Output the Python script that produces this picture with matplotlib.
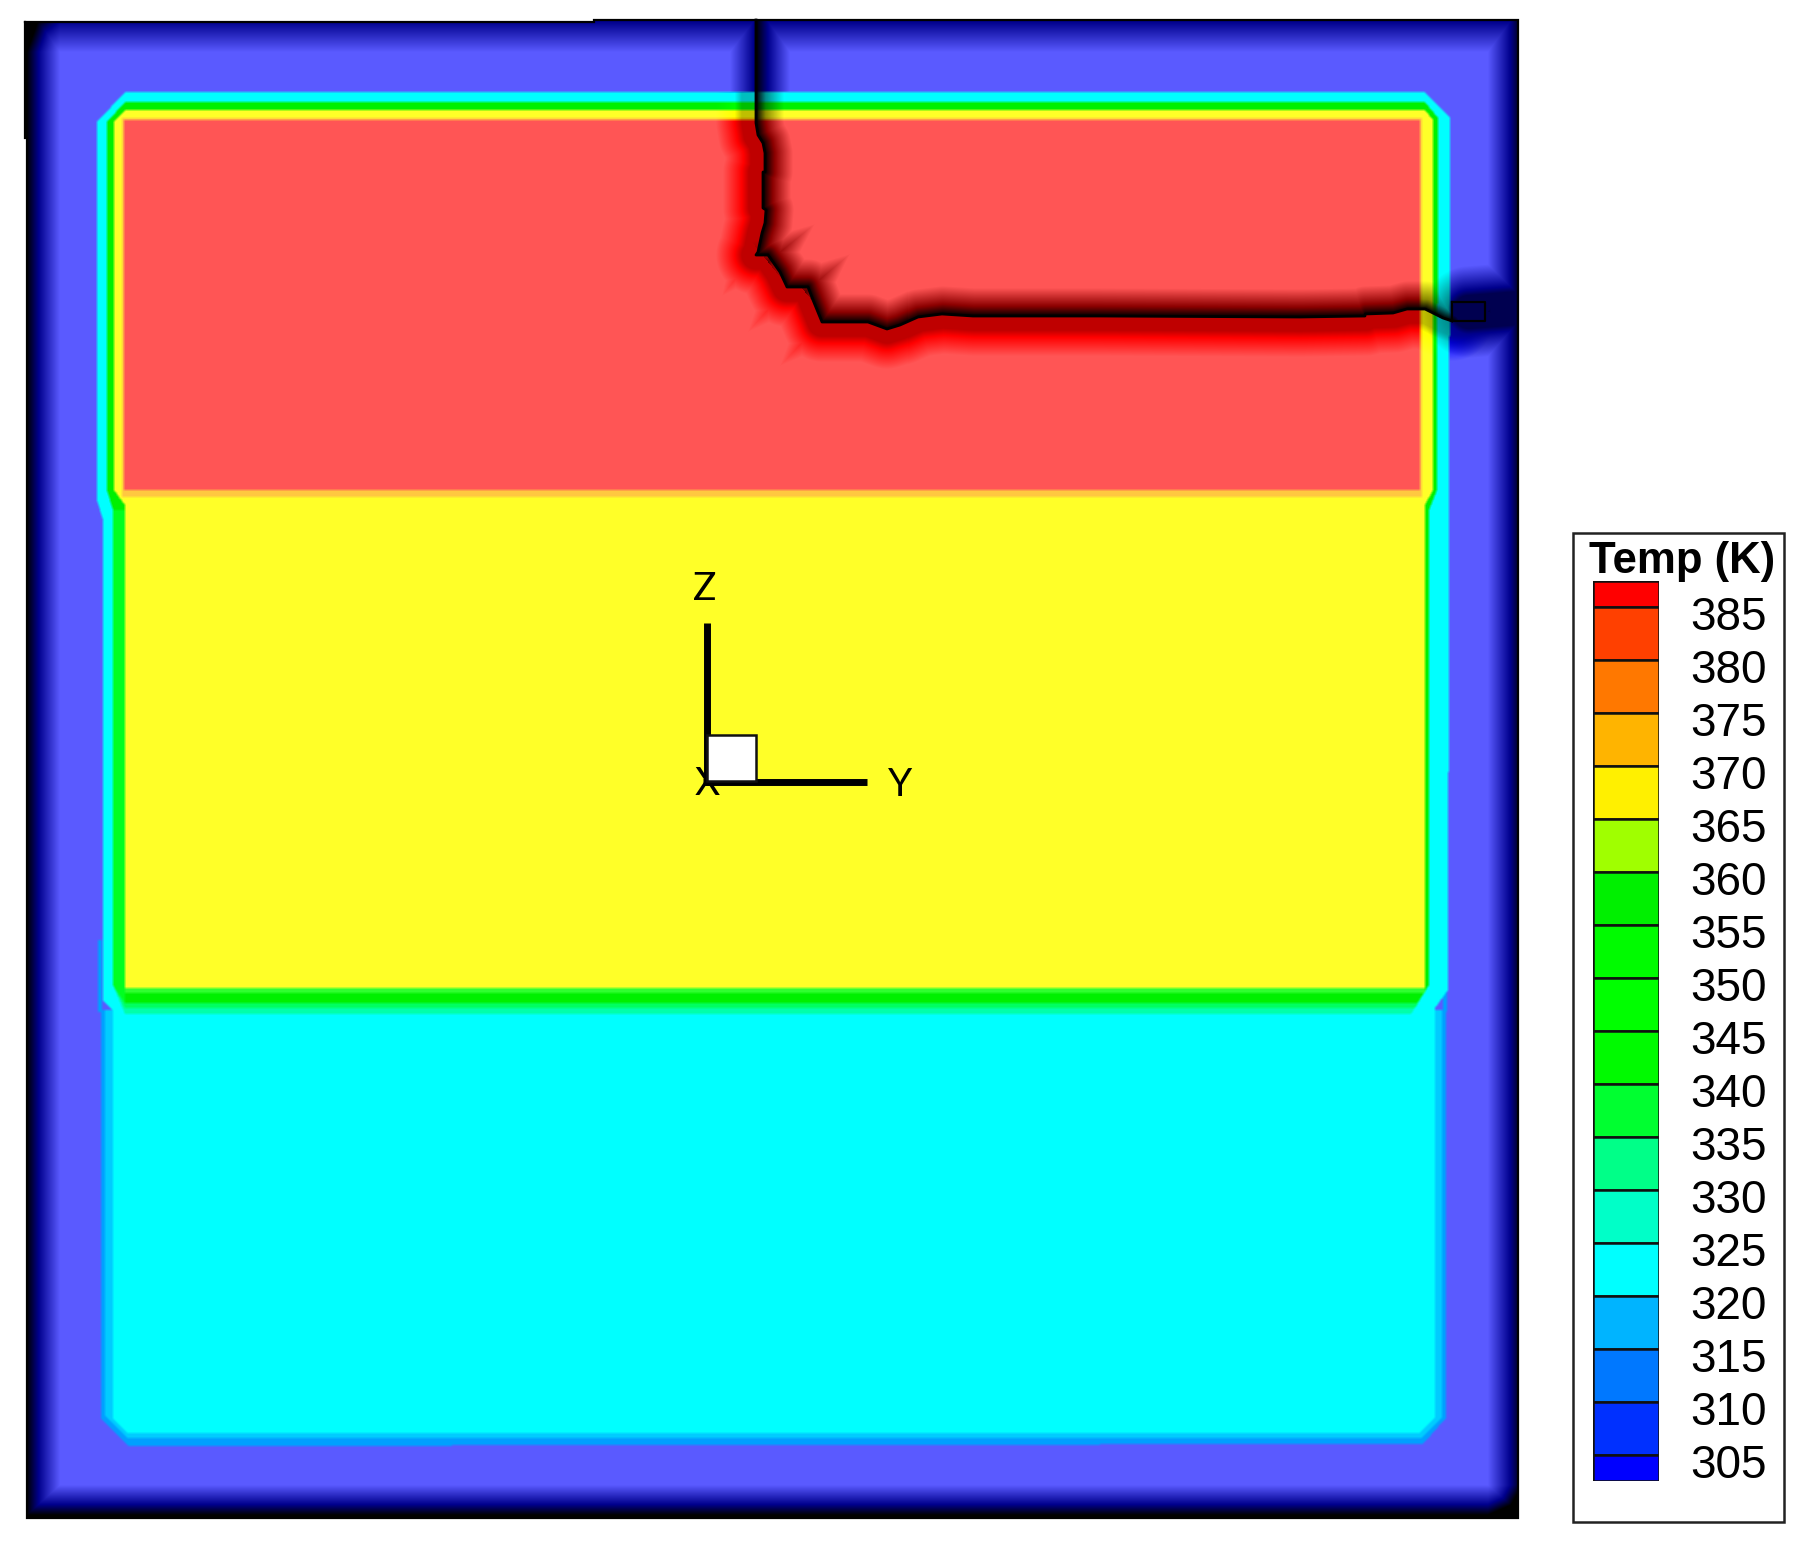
import numpy as np
import matplotlib
matplotlib.use("Agg")
import matplotlib.pyplot as plt
from matplotlib.path import Path
from matplotlib.patches import Rectangle

W, H = 1801, 1541

# ---- data -----------------------------------------------------------------
levels = [385, 380, 375, 370, 365, 360, 355, 350, 345, 340, 335, 330, 325, 320, 315, 310, 305]
band_colors = ["#FF0000", "#FF4000", "#FF7800", "#FFB400", "#FFF000", "#A0FF00", "#00F000", "#00FB00",
               "#00FF00", "#00FA00", "#00FF30", "#00FF88", "#00FFC8", "#00FFFF", "#00B4FF", "#0078FF",
               "#0030FF", "#0000FF"]

outline = [(25, 22), (594, 22), (594, 20), (1518, 20), (1518, 1518), (27, 1518), (27, 138), (25, 138)]

# painter's order: (colour, polygon) in image pixels
regions = [
    ("#5A5AFF", outline),
    ("#00A0FF", [(101, 1010), (1445, 1010), (1445, 1418), (1422, 1444), (128, 1446), (101, 1418)]),
    ("#00A0FF", [(98, 940), (102, 940), (102, 1012), (98, 1012)]),
    ("#00A0FF", [(1442, 985), (1446, 985), (1446, 1012), (1442, 1012)]),
    ("#00CCFF", [(105, 1010), (1441, 1010), (1441, 1418), (1420, 1438), (128, 1438), (105, 1416)]),
    ("#00FFFF", [(97, 122), (125, 92), (1424, 92), (1449, 118), (1447, 990), (1434, 1008), (1434, 1418),
                 (1418, 1433), (128, 1433), (113, 1418), (113, 1010), (103, 1000), (103, 520), (97, 500)]),
    ("#00FFAA", [(113, 985), (125, 1014), (1410, 1014), (1428, 985)]),
    ("#00FF60", [(113, 985), (125, 1008), (1414, 1008), (1428, 985)]),
    ("#00F000", [(107, 122), (125, 102), (1424, 102), (1437, 118), (1436, 490), (1428, 510), (1428, 985),
                 (1416, 1003), (125, 1003), (113, 985), (113, 510), (107, 490)]),
    ("#00FF20", [(113, 510), (125, 510), (125, 1003), (113, 985)]),
    ("#30FF30", [(125, 985), (1424, 985), (1424, 993), (125, 993)]),
    ("#FFFF28", [(114, 122), (125, 110), (1424, 110), (1432, 120), (1432, 490), (1424, 505), (1424, 988),
                 (125, 988), (125, 505), (114, 490)]),
    ("#FFC840", [(122, 118), (1421, 118), (1421, 497), (122, 497)]),
    ("#FF5555", [(124, 120), (1419, 120), (1419, 490), (124, 490)]),
]

crack = [(756, 20), (756, 123), (758, 135), (763, 143), (765, 153), (765, 172), (763, 172), (763, 208),
         (766, 210), (765, 223), (762, 233), (758, 252), (756, 255), (768, 255), (780, 272), (787, 287),
         (808, 287), (813, 300), (822, 322), (868, 322), (887, 329), (900, 325), (918, 317), (942, 314),
         (973, 316), (1100, 316), (1300, 317), (1365, 316), (1365, 314), (1393, 313), (1407, 309),
         (1425, 309), (1443, 318), (1452, 321)]
crack_box = [(1452, 302), (1485, 302), (1485, 321), (1452, 321), (1452, 302)]
# (base, tip, half-width, strength) of the saw-tooth shadows
upper_teeth = [((768, 262), (815, 224), 26, .8), ((805, 292), (850, 254), 26, .8), ((1488, 312), (1518, 245), 34, .85)]
lower_teeth = [((752, 258), (722, 296), 24, .42), ((784, 292), (748, 332), 24, .42), ((818, 326), (780, 366), 24, .42)]
crack_tail = ((1468, 312), (1518, 308))


# ---- field ----------------------------------------------------------------
def hex_rgb(h):
    return np.array([int(h[i:i + 2], 16) for i in (1, 3, 5)], dtype=np.float32) / 255


def seg_dist(px, py, a, b):
    ax_, ay_ = a
    bx, by = b
    dx, dy = bx - ax_, by - ay_
    L2 = dx * dx + dy * dy
    if L2 == 0:
        return np.hypot(px - ax_, py - ay_)
    t = np.clip(((px - ax_) * dx + (py - ay_) * dy) / L2, 0, 1)
    return np.hypot(px - (ax_ + t * dx), py - (ay_ + t * dy))


def tooth(px, py, a, b, w, level):
    dx, dy = b[0] - a[0], b[1] - a[1]
    L = np.hypot(dx, dy)
    t = ((px - a[0]) * dx + (py - a[1]) * dy) / (L * L)
    perp = np.abs((px - a[0]) * dy - (py - a[1]) * dx) / L
    val = level * (1 - perp / np.maximum(w * (1 - t), 1e-3)) * (1 - t)
    return np.where((t >= 0) & (t <= 1), np.clip(val, 0, 1), 0)


xs, ys = np.meshgrid(np.arange(W, dtype=np.float32) + .5, np.arange(H, dtype=np.float32) + .5)
pts = np.column_stack([xs.ravel(), ys.ravel()])


def inside(poly):
    return Path(poly + [poly[0]]).contains_points(pts).reshape(H, W)


rgb = np.ones((H, W, 3), dtype=np.float32)
for col, poly in regions:
    rgb[inside(poly)] = hex_rgb(col)

# small box blur to mimic the soft raster
mask = inside(outline)
blur = rgb.copy()
for ax_id in (0, 1):
    blur = (np.roll(blur, 1, ax_id) + blur + np.roll(blur, -1, ax_id)) / 3
rgb = np.where(mask[..., None], blur, 1.0)

# shading from the walls
sl = np.clip(1 - (xs - 27) / 33, 0, 1)
st = np.clip(.66 * (1 - (ys - 21) / 31), 0, 1)
sr = np.clip(.9 * (xs - 1487) / 31, 0, 1)
sb = np.clip((ys - 1485) / 30, 0, 1)
s_dir = np.maximum(np.maximum(sl, sr), np.maximum(st, sb))
s_dir = s_dir + .5 * np.minimum(sl, st) + .5 * np.minimum(sr, sb)

# shading from the crack: dark on the upper right, saturated on the lower left
d = np.full((H, W), 1e6, dtype=np.float32)
for a, b in zip(crack[:-1], crack[1:]):
    d = np.minimum(d, seg_dist(xs, ys, a, b))
upper = inside(crack + [(1518, 310), (1518, 20)])
s_dir = np.maximum(s_dir, np.where(upper, 1 - d / 28, 0))
# in the cold top wall the lower-left side of the crack is navy, and the right one wider
s_dir = np.maximum(s_dir, np.where(ys < 92, np.where(upper, 1 - d / 34, .72 * (1 - d / 26)), 0))
s_sat = np.where(upper, np.clip(.5 * (1 - d / 3), 0, 1), np.minimum(.55, .85 * (1 - d / 40)))
s_sat = np.where(ys < 92, 0, np.clip(s_sat, 0, 1))
for a, b, w, lv in upper_teeth:
    s_dir = np.maximum(s_dir, tooth(xs, ys, a, b, w, lv))
for a, b, w, lv in lower_teeth:
    s_sat = np.maximum(s_sat, tooth(xs, ys, a, b, w, lv))
s_dir = np.maximum(s_dir, np.minimum(.8, 1.25 * (1 - seg_dist(xs, ys, *crack_tail) / 46)))
s_dir = np.clip(s_dir, 0, 1)[..., None]
s_sat = s_sat[..., None]

mn, mx = rgb.min(2, keepdims=True), rgb.max(2, keepdims=True)
pure = (rgb - mn) / np.maximum(mx - mn, 1e-3)
# saturating shade: pale -> pure -> darker
k = .4
sat = np.where(s_sat < k, rgb + (pure - rgb) * s_sat / k, pure * (1 - (s_sat - k) / (1 - k)))
# direct shade: pale -> deep -> black
k2 = .65
deep = pure * .55
dark = np.where(s_dir < k2, sat + (deep - sat) * s_dir / k2, deep * (1 - (s_dir - k2) / (1 - k2)))
rgb = np.where(mask[..., None], np.clip(dark, 0, 1), 1.0)

# ---- figure ---------------------------------------------------------------
plt.rcParams["font.family"] = ["Liberation Sans", "DejaVu Sans"]
fig = plt.figure(figsize=(W / 100, H / 100), dpi=100, facecolor="white")
ax = fig.add_axes([0, 0, 1, 1])
ax.set_xlim(0, W)
ax.set_ylim(H, 0)
ax.axis("off")
ax.imshow(rgb, extent=(0, W, H, 0), interpolation="none", aspect="auto", zorder=1)
ox, oy = zip(*(outline + [outline[0]]))
ax.plot(ox, oy, color="black", lw=1.6, solid_joinstyle="miter", zorder=3)

cx, cy = zip(*crack)
ax.plot(cx, cy, color="black", lw=2.0, solid_joinstyle="round", zorder=4)
bx, by = zip(*crack_box)
ax.plot(bx, by, color="black", lw=1.6, zorder=4)

# axis triad
ax.plot([706.5, 706.5], [623, 785], color="black", lw=5, solid_capstyle="butt", zorder=4)
ax.plot([703, 867], [781.5, 781.5], color="black", lw=5, solid_capstyle="butt", zorder=4)
ax.text(705, 589, "Z", fontsize=28, family="Lato", ha="center", va="center", zorder=4)
ax.text(707, 784, "X", fontsize=28, family="Lato", ha="center", va="center", zorder=4)
ax.text(900, 785, "Y", fontsize=28, family="Lato", ha="center", va="center", zorder=4)
ax.add_patch(Rectangle((707, 735), 49, 46, facecolor="white", edgecolor="#111111", lw=1.8, zorder=5))

# legend
ax.add_patch(Rectangle((1573, 533), 211, 989, facecolor="white", edgecolor="#222222", lw=1.8, zorder=2))
ax.text(1682, 561, "Temp (K)", fontsize=31.5, fontweight="bold", ha="center", va="center", zorder=6)

cb = fig.add_axes([1593 / W, 1 - 1481 / H, 66 / W, 900 / H], zorder=10)
cb.patch.set_alpha(0)
top = 387.45
bot = 302.55
cb.set_xlim(0, 1)
cb.set_ylim(bot, top)
edges = [top] + levels + [bot]
for col, hi, lo in zip(band_colors, edges[:-1], edges[1:]):
    cb.bar(.5, hi - lo, bottom=lo, width=1, color=col, edgecolor="#101010", lw=1.8)
for lev in levels:
    cb.annotate(str(lev), xy=(1, lev), xycoords=cb.get_yaxis_transform(), xytext=(69, -11),
                textcoords="offset pixels", ha="center", va="center", fontsize=33, annotation_clip=False)
cb.axis("off")

fig.savefig("out.png", dpi=100, facecolor="white")
